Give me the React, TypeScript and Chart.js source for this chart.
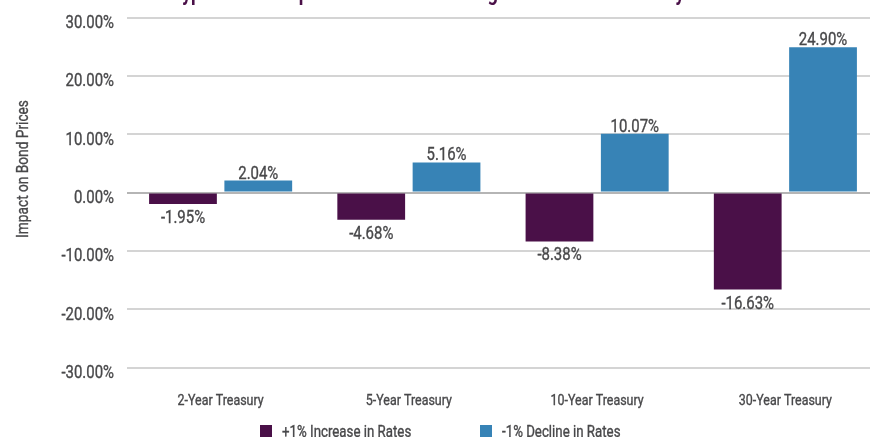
import React, { useEffect, useRef } from "react";
import { Chart, registerables } from "chart.js";

Chart.register(...registerables);

const categories = ["2-Year Treasury", "5-Year Treasury", "10-Year Treasury", "30-Year Treasury"];
const increaseValues = [-1.95, -4.68, -8.38, -16.63];
const declineValues = [2.04, 5.16, 10.07, 24.9];
const seriesNames = ["+1% Increase in Rates", "-1% Decline in Rates"];
const seriesColors = ["#4a1048", "#3783b6"];
const yMin = -30;
const yMax = 30;
const yStep = 10;
const titleText = "Hypothetical Impact of a 1% Rate Change in Yields on Treasury Prices";
const yAxisTitle = "Impact on Bond Prices";

const OFFSET = 20;
const CW = 884;
const CH = 457;
const FONT = 'Roboto, "Noto Sans", sans-serif';
const TEXT = "#48484a";
const SX = 0.83;

const fmt = (v: number) => v.toFixed(2) + "%";

function sq(ctx: any, text: string, x: number, y: number, align: string, sx: number = SX, stroke: boolean = true) {
  ctx.save();
  ctx.translate(x, y);
  ctx.scale(sx, 1);
  ctx.textAlign = align;
  ctx.fillText(text, 0, 0);
  if (stroke) {
    ctx.strokeStyle = ctx.fillStyle;
    ctx.lineWidth = 0.35;
    ctx.strokeText(text, 0, 0);
  }
  ctx.restore();
}

const overlay = {
  id: "overlay",
  afterDatasetsDraw(chart: any) {
    const ctx = chart.ctx;
    ctx.save();
    ctx.font = `18px ${FONT}`;
    ctx.fillStyle = TEXT;
    ctx.textBaseline = "alphabetic";
    chart.data.datasets.forEach((ds: any, di: number) => {
      const meta = chart.getDatasetMeta(di);
      meta.data.forEach((bar: any, i: number) => {
        const v = ds.data[i];
        if (v >= 0) {
          sq(ctx, fmt(v), bar.x, bar.y - 2, "center");
        } else {
          sq(ctx, fmt(v), bar.x, bar.y + 19, "center");
        }
      });
    });
    ctx.restore();
  },
  afterDraw(chart: any) {
    const ctx = chart.ctx;
    ctx.save();
    ctx.textBaseline = "alphabetic";
    // y tick labels
    const ys = chart.scales.y;
    ctx.font = `18px ${FONT}`;
    ctx.fillStyle = TEXT;
    ys.ticks.forEach((t: any) => {
      const py = ys.getPixelForValue(t.value);
      sq(ctx, fmt(t.value), 114, py + 10.5, "right");
    });
    // x tick labels
    const xs = chart.scales.x;
    ctx.font = `15px ${FONT}`;
    chart.data.labels.forEach((lab: string, i: number) => {
      sq(ctx, lab, xs.getPixelForTick(i), OFFSET + 404.5, "center");
    });
    // title (clipped at top)
    ctx.font = `bold 22px ${FONT}`;
    ctx.fillStyle = "#4a1048";
    sq(ctx, titleText, 169, OFFSET + 0, "left", SX, false);
    // y axis title
    ctx.save();
    ctx.translate(27.5, OFFSET + 169);
    ctx.rotate(-Math.PI / 2);
    ctx.font = `16.5px ${FONT}`;
    ctx.fillStyle = TEXT;
    sq(ctx, yAxisTitle, 0, 0, "center");
    ctx.restore();
    // legend
    ctx.font = `16px ${FONT}`;
    const starts = [260, 480];
    seriesNames.forEach((name, i) => {
      ctx.fillStyle = seriesColors[i];
      ctx.fillRect(starts[i], OFFSET + 425, 12, 12);
      ctx.fillStyle = TEXT;
      sq(ctx, name, starts[i] + 22, OFFSET + 437, "left");
    });
    ctx.restore();
  },
};

export default function App() {
  const ref = useRef<HTMLCanvasElement | null>(null);
  useEffect(() => {
    if (!ref.current) return;
    const chart = new Chart(ref.current, {
      type: "bar",
      data: {
        labels: categories,
        datasets: [
          {
            label: seriesNames[0],
            data: increaseValues,
            backgroundColor: seriesColors[0],
            barPercentage: 0.9,
            categoryPercentage: 0.8,
          },
          {
            label: seriesNames[1],
            data: declineValues,
            backgroundColor: seriesColors[1],
            barPercentage: 0.9,
            categoryPercentage: 0.8,
          },
        ],
      },
      options: {
        responsive: false,
        animation: false,
        layout: { padding: { top: OFFSET + 17.5, right: 4.5, left: 0, bottom: 0 } },
        plugins: {
          legend: { display: false },
          title: { display: false },
          tooltip: { enabled: false },
        },
        scales: {
          x: {
            grid: { display: false, drawTicks: false },
            border: { display: false },
            ticks: { display: false },
            afterFit(scale: any) {
              scale.height = CH - (OFFSET + 367.5);
            },
          },
          y: {
            min: yMin,
            max: yMax,
            ticks: { stepSize: yStep, display: false },
            grid: {
              drawTicks: false,
              lineWidth: 2,
              color: (c: any) => (c.tick && c.tick.value === 0 ? "#b5b5b5" : "#d4d4d4"),
            },
            border: { display: false },
            afterFit(scale: any) {
              scale.width = 126.5;
            },
          },
        },
      },
      plugins: [overlay],
    } as any);
    return () => chart.destroy();
  }, []);
  return (
    <div style={{ position: "fixed", top: 0, left: 0, width: 870, height: 437, overflow: "hidden", background: "#fff" }}>
      <canvas
        ref={ref}
        width={CW}
        height={CH}
        style={{ position: "absolute", top: -OFFSET, left: 0, width: CW, height: CH }}
      />
    </div>
  );
}
